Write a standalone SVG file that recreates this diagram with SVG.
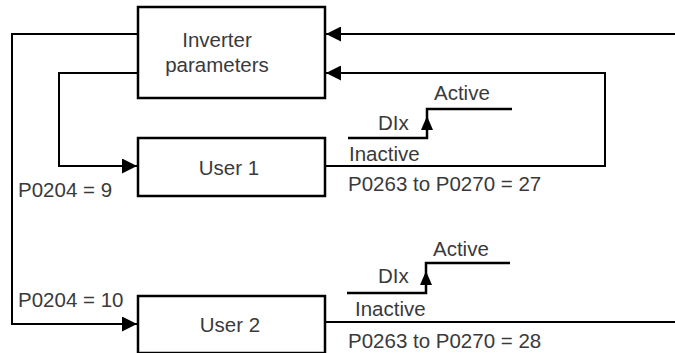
<svg xmlns="http://www.w3.org/2000/svg" width="675" height="353" viewBox="0 0 675 353">
<style>
.box{fill:#fff;stroke:#000;stroke-width:2.5}
.conn{fill:none;stroke:#000;stroke-width:2}
.sig{fill:none;stroke:#000;stroke-width:2.5}
text{font-family:"Liberation Sans",Arial,sans-serif;font-size:20.5px;fill:#3a3a3a}
.c{text-anchor:middle}
</style>
<defs>
<marker id="ah" viewBox="0 0 15 15" refX="15" refY="7.5" markerWidth="15" markerHeight="15" markerUnits="userSpaceOnUse" orient="auto">
<path d="M0,0 L15,7.5 L0,15 z" fill="#000"/>
</marker>
</defs>
<g id="connectors">
<path class="conn" d="M138,34 H12 V324 H137" marker-end="url(#ah)"/>
<path class="conn" d="M138,73 H59 V166 H137" marker-end="url(#ah)"/>
<path class="conn" d="M325,166 H605 V73 H326" marker-end="url(#ah)"/>
<path class="conn" d="M675,34 H326" marker-end="url(#ah)"/>
<path class="conn" d="M325,322 H675"/>
</g>
<g id="inverter">
<rect class="box" x="138" y="7" width="187" height="91"/>
<text class="c" x="217" y="47">Inverter</text>
<text class="c" x="217" y="72">parameters</text>
</g>
<g id="user1">
<rect class="box" x="138" y="138" width="187" height="58"/>
<text class="c" x="229" y="175">User 1</text>
</g>
<g id="user2">
<rect class="box" x="138" y="296" width="187" height="57"/>
<text class="c" x="230" y="332">User 2</text>
</g>
<g id="signal1">
<path class="sig" d="M348,138 H427 V109 H512"/>
<path d="M427,116 L433,130 L421,130 z" fill="#000"/>
<text x="434" y="100">Active</text>
<text x="378" y="130">DIx</text>
<text x="349" y="161">Inactive</text>
</g>
<g id="signal2">
<path class="sig" d="M347,293 H426 V263 H510"/>
<path d="M426,271 L432,285 L420,285 z" fill="#000"/>
<text x="433" y="256">Active</text>
<text x="378" y="283">DIx</text>
<text x="355" y="316">Inactive</text>
</g>
<g id="labels">
<text x="18" y="197">P0204 = 9</text>
<text x="18" y="307">P0204 = 10</text>
<text x="348" y="191">P0263 to P0270 = 27</text>
<text x="348" y="348">P0263 to P0270 = 28</text>
</g>
</svg>
